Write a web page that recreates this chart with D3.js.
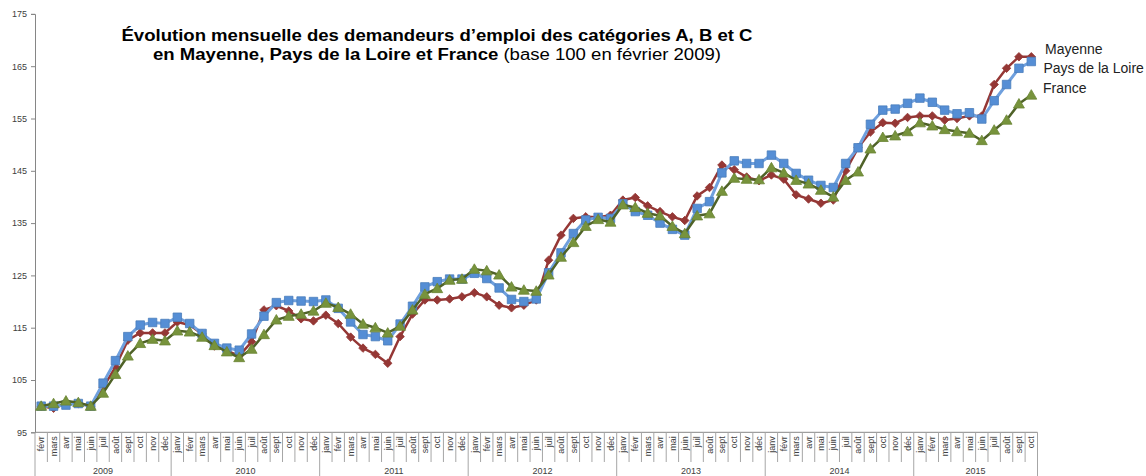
<!DOCTYPE html>
<html>
<head>
<meta charset="utf-8">
<title>Demandeurs d'emploi - Mayenne</title>
<style>
  body { margin: 0; background: #fff; }
  svg { display: block; font-family: Arial, "Liberation Sans", sans-serif; }
  .axis-label { fill: #404040; font-size: 9px; }
  .legend-label { fill: #222; font-size: 14px; }
</style>
</head>
<body>
<svg width="1146" height="476"></svg>
<script src="https://d3js.org/d3.v7.min.js"></script>
<script>
// months and years shown on the x axis
var monthNames = ["janv","févr","mars","avr","mai","juin","juil","août","sept","oct","nov","déc"];
var years = ["2009","2010","2011","2012","2013","2014","2015"];
var firstMonth = 1;   // févr 2009
var lastMonth = 9;    // oct 2015
var yTicks = [95, 105, 115, 125, 135, 145, 155, 165, 175];

// series, base 100 in févr 2009
var mayenne = [100, 99.6, 100.5, 100.5, 100, 103.5, 107.5, 112.6, 114.0, 114.0, 114.0,
  116.1, 115.5, 113.8, 111.5, 110.6, 109.6, 112.3, 118.4, 119.2, 118.2, 116.7, 116.3,
  117.4, 115.8, 113.2, 111.1, 109.9, 108.2, 113.3, 117.6, 120.3, 120.3, 120.5, 120.9,
  121.7, 120.9, 119.3, 118.8, 119.3, 120.3, 127.9, 132.7, 135.9, 136.2, 136.1, 136.5,
  139.4, 139.9, 138.3, 137.2, 136.2, 135.5, 140.2, 141.8, 146.1, 145.2, 143.8, 143.1,
  144.2, 143.4, 140.4, 139.6, 138.8, 139.4, 145.0, 149.4, 152.4, 154.2, 154.1, 155.2,
  155.5, 155.5, 154.7, 155.0, 155.5, 155.5, 161.5, 164.6, 166.8, 166.8];
var paysLoire = [100, 100, 100.2, 100.5, 100, 104.4, 108.7, 113.3, 115.5, 116.0, 115.8,
  117.0, 115.8, 113.9, 112.0, 111.1, 110.7, 113.8, 117.2, 119.8, 120.2, 120.1, 120.0,
  120.3, 118.7, 116.1, 113.7, 113.3, 112.5, 115.7, 119.1, 122.8, 123.8, 124.3, 124.3,
  125.4, 124.4, 122.6, 120.4, 120.0, 120.5, 125.5, 129.3, 133.0, 135.6, 136.1, 135.9,
  138.7, 137.2, 136.5, 135.0, 133.8, 132.7, 137.8, 139.1, 144.6, 146.9, 146.4, 146.4,
  148.0, 146.4, 144.5, 143.2, 142.2, 141.8, 146.4, 149.4, 153.9, 156.6, 156.8, 157.9,
  158.9, 158.1, 156.6, 155.9, 156.1, 154.9, 158.4, 161.5, 164.6, 165.9];
var france = [100, 100.5, 101.0, 100.7, 100, 102.5, 106.1, 109.6, 112.0, 112.8, 112.5,
  114.4, 114.2, 113.2, 111.6, 110.4, 109.3, 110.9, 113.7, 116.5, 117.2, 117.6, 118.2,
  119.7, 118.9, 117.6, 115.7, 115.0, 114.0, 115.3, 118.4, 121.4, 122.5, 124.1, 124.3,
  126.2, 125.9, 125.1, 122.8, 122.2, 122.0, 125.1, 128.5, 131.3, 134.4, 135.7, 135.2,
  138.5, 138.0, 136.9, 136.4, 134.4, 133.0, 136.4, 136.8, 141.1, 143.6, 143.4, 143.3,
  145.6, 144.6, 143.2, 142.5, 141.3, 140.0, 143.2, 144.8, 149.2, 151.4, 151.7, 152.5,
  154.2, 153.6, 152.9, 152.5, 152.2, 150.8, 152.8, 154.7, 157.8, 159.5];

// build the month categories
var cats = [];
years.forEach(function(yr, yi) {
  var m0 = yi == 0 ? firstMonth : 0;
  var m1 = yi == years.length - 1 ? lastMonth : 11;
  for (var m = m0; m <= m1; m++) cats.push({year: yr, month: monthNames[m]});
});

var series = [
  {name: "Mayenne", values: mayenne, line: "#953735", fill: "#953735", stroke: "#953735",
   symbol: "diamond", lw: 2.5},
  {name: "Pays de la Loire", values: paysLoire, line: "#6fa0de", fill: "#558ed5", stroke: "#4a7ebb",
   symbol: "square", lw: 3},
  {name: "France", values: france, line: "#4f6228", fill: "#77933c", stroke: "#6b8535",
   symbol: "triangle", lw: 2.5}
];

var svg = d3.select("svg");

var x = d3.scaleBand()
  .domain(d3.range(cats.length))
  .range([35, 1037.5]);
var y = d3.scaleLinear()
  .domain([95, 175])
  .range([432.3, 13.9]);

// y axis
var yAxis = svg.append("g")
  .attr("transform", "translate(35,0)")
  .call(d3.axisLeft(y).tickValues(yTicks).tickSize(4).tickPadding(4));
yAxis.select(".domain").attr("stroke", "#868686");
yAxis.selectAll(".tick line").attr("stroke", "#868686");
yAxis.selectAll(".tick text").attr("class", "axis-label").attr("font-family", null).attr("font-size", null);

// x axis line
svg.append("line")
  .attr("x1", 35).attr("x2", x.range()[1])
  .attr("y1", y(95)).attr("y2", y(95))
  .attr("stroke", "#868686");

// month separators (longer ones at year boundaries)
var bounds = d3.range(cats.length + 1);
svg.append("g").selectAll("line")
  .data(bounds)
  .join("line")
  .attr("x1", function(i) { return 35 + i * x.step(); })
  .attr("x2", function(i) { return 35 + i * x.step(); })
  .attr("y1", y(95))
  .attr("y2", function(i) {
    var isYear = i == 0 || i == cats.length || cats[i].month == "janv";
    return isYear ? 476 : 462;
  })
  .attr("stroke", "#a6a6a6");

// month labels
svg.append("g").selectAll("text")
  .data(cats)
  .join("text")
  .attr("class", "axis-label")
  .attr("transform", function(d, i) {
    return "translate(" + (x(i) + x.bandwidth() / 2) + "," + (y(95) + 4) + ") rotate(-90)";
  })
  .attr("text-anchor", "end")
  .attr("dy", "0.35em")
  .text(function(d) { return d.month; });

// year labels
svg.append("g").selectAll("text")
  .data(years)
  .join("text")
  .attr("class", "axis-label")
  .attr("text-anchor", "middle")
  .attr("x", function(yr) {
    var idx = cats.map(function(c, i) { return c.year == yr ? i : -1; }).filter(function(i) { return i >= 0; });
    return (x(idx[0]) + x(idx[idx.length - 1]) + x.bandwidth()) / 2;
  })
  .attr("y", 474)
  .text(function(d) { return d; });

// lines and markers
var line = d3.line()
  .x(function(d, i) { return x(i) + x.bandwidth() / 2; })
  .y(function(d) { return y(d); });

var symbols = {
  diamond: d3.symbol().type(d3.symbolSquare).size(36),
  square: d3.symbol().type(d3.symbolSquare).size(72),
  triangle: d3.symbol().type(d3.symbolTriangle).size(52)
};

series.forEach(function(s) {
  var g = svg.append("g");
  g.append("path")
    .attr("d", line(s.values))
    .attr("fill", "none")
    .attr("stroke", s.line)
    .attr("stroke-width", s.lw)
    .attr("stroke-linejoin", "round");
  g.selectAll("path.mk")
    .data(s.values)
    .join("path")
    .attr("class", "mk")
    .attr("d", symbols[s.symbol])
    .attr("transform", function(d, i) {
      var t = "translate(" + (x(i) + x.bandwidth() / 2) + "," + y(d) + ")";
      if (s.symbol == "diamond") t += " rotate(45)";
      if (s.symbol == "triangle") t += " translate(0,1)";
      return t;
    })
    .attr("fill", s.fill)
    .attr("stroke", s.stroke)
    .attr("stroke-width", 0.8);
});

// legend labels at the end of the lines
var legendPos = [[1045, 54], [1043.5, 73], [1043, 93]];
svg.append("g").selectAll("text")
  .data(series)
  .join("text")
  .attr("class", "legend-label")
  .attr("x", function(d, i) { return legendPos[i][0]; })
  .attr("y", function(d, i) { return legendPos[i][1]; })
  .text(function(d) { return d.name; });

// title (the original is drawn wider than plain Arial, so stretch it a bit)
var title = svg.append("text")
  .attr("transform", "translate(437,0) scale(1.16,1)")
  .attr("text-anchor", "middle")
  .attr("font-size", 16)
  .attr("fill", "#000");
title.append("tspan")
  .attr("x", 0).attr("y", 41)
  .attr("font-weight", "bold")
  .text("Évolution mensuelle des demandeurs d’emploi des catégories A, B et C");
var t2 = title.append("tspan").attr("x", 0).attr("y", 60);
t2.append("tspan").attr("font-weight", "bold").text("en Mayenne, Pays de la Loire et France");
t2.append("tspan").text(" (base 100 en février 2009)");
</script>
</body>
</html>
